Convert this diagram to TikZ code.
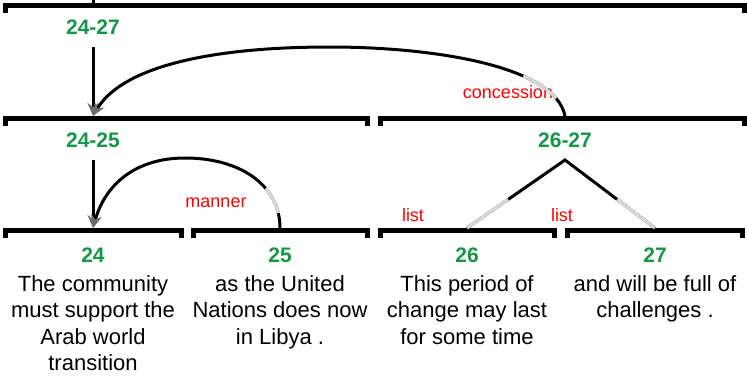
\documentclass[tikz,border=0pt]{standalone}
\usepackage{fontspec}
\setmainfont{Liberation Sans}
\usetikzlibrary{arrows.meta,calc}
\definecolor{numgreen}{RGB}{17,153,68}
\definecolor{segray}{RGB}{215,215,215}
\begin{document}
\begin{tikzpicture}[x=1pt,y=-1pt,
  bar/.style={line width=5pt, line join=miter, line cap=butt},
  num/.style={font=\fontsize{21}{24}\selectfont\bfseries, text=numgreen, inner sep=0pt},
  rel/.style={font=\fontsize{18}{21}\selectfont, text=red, inner sep=0pt},
  edu/.style={font=\fontsize{22}{26.5}\selectfont, align=center, anchor=north, inner sep=0pt},
  link/.style={line width=3pt},
  arr/.style={link, -{Stealth[length=13pt,width=11pt,color=gray!85!black]}},
  hl/.style={line width=3.3pt, draw=segray}
]
\useasboundingbox (0,0) rectangle (747,383);

% spans (bars)
\draw[bar] (5,13) -- (5,5.5) -- (744,5.5) -- (744,13);
\draw[link] (93,0) -- (93,5);
\draw[bar] (5,126) -- (5,118.5) -- (367,118.5) -- (367,126);
\draw[bar] (380,126) -- (380,118.5) -- (744,118.5) -- (744,126);
\draw[bar] (5,238) -- (5,230.5) -- (181,230.5) -- (181,238);
\draw[bar] (193,238) -- (193,230.5) -- (367,230.5) -- (367,238);
\draw[bar] (380,238) -- (380,230.5) -- (554,230.5) -- (554,238);
\draw[bar] (567,238) -- (567,230.5) -- (742,230.5) -- (742,238);

% attach points
\coordinate (t2427) at (93,47);
\coordinate (b2427) at (93,116);
\coordinate (t2425) at (93,160);
\coordinate (b2425) at (93,228);
\coordinate (s2627) at (565,116);
\coordinate (s25) at (280,228);
\coordinate (apex) at (565,160);
\coordinate (s26) at (467,228);
\coordinate (s27) at (655,228);

% labels
\node[num] (l2427) at (93,27) {24-27};
\node[num] (l2425) at (93,140) {24-25};
\node[num] (l2627) at (565,140) {26-27};
\node[num] (n24) at (93,255) {24};
\node[num] (n25) at (280,255) {25};
\node[num] (n26) at (467,255) {26};
\node[num] (n27) at (655,255) {27};

\node[edu] (e24) at (93,275) {The community\\must support the\\Arab world\\transition};
\node[edu] (e25) at (280,275) {as the United\\Nations does now\\in Libya .};
\node[edu] (e26) at (467,275) {This period of\\change may last\\for some time};
\node[edu] (e27) at (655,275) {and will be full of\\challenges .};

\node[rel] (rconc) at (508,92) {concession};
\node[rel] (rman) at (216,203) {manner};
\node[rel] (rl1) at (413,215) {list};
\node[rel] (rl2) at (562,215) {list};

% vertical arrows
\draw[arr] (t2427) -- (b2427);
\draw[arr] (t2425) -- (b2425);

% concession arc
\draw[arr] (s2627) .. controls (555,65) and (430,47) .. (330,47) .. controls (200,47) and (120,70) .. (b2427);
\draw[hl, dash pattern=on 0pt off 20pt on 40pt off 5000pt] (s2627) .. controls (555,65) and (430,47) .. (330,47);

% manner arc
\draw[arr] (s25) .. controls (280,185) and (240,158) .. (185,158) .. controls (135,158) and (105,185) .. (b2425);
\draw[hl, dash pattern=on 0pt off 15pt on 28pt off 5000pt] (s25) .. controls (280,185) and (240,158) .. (185,158);

% list tree
\draw[link, line join=miter] (s26) -- (apex) -- (s27);
\draw[hl] (s26) -- ($(s26)!0.42!(apex)$);
\draw[hl] (s27) -- ($(s27)!0.42!(apex)$);
\end{tikzpicture}
\end{document}
